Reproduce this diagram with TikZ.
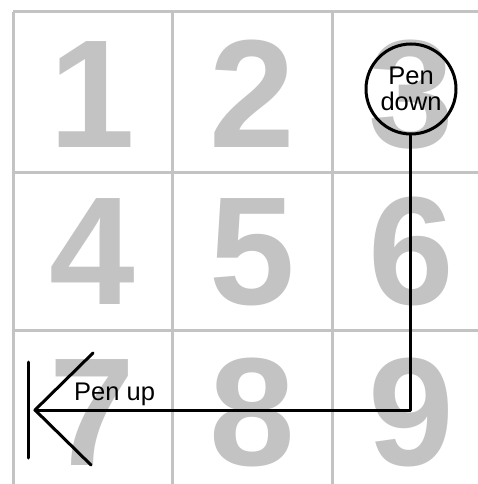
\documentclass[tikz,border=0pt]{standalone}
\usepackage{fontspec}
\setmainfont{Liberation Sans}
\begin{document}
\begin{tikzpicture}[x=1pt,y=-1pt,
  gridline/.style={draw=gridgrey,line width=3pt},
  digit/.style={text=gridgrey,font=\fontsize{154}{154}\bfseries\selectfont,inner sep=0pt,anchor=base},
  pen/.style={line width=3pt,line join=round,line cap=round},
  penlabel/.style={font=\fontsize{25.5}{28}\selectfont,inner sep=0pt}]
\definecolor{gridgrey}{HTML}{C3C3C3}
\useasboundingbox (0,0) rectangle (478,484);
\fill[white] (0,0) rectangle (478,484);
% grid
\foreach \x in {13,172,332} \draw[gridline] (\x,12) -- (\x,484);
\foreach \y in {12,172,330} \draw[gridline] (13,\y) -- (478,\y);
% digits
\node[digit] (d1) at (92,147) {1};
\node[digit] (d2) at (252,147) {2};
\node[digit] (d3) at (411,147) {3};
\node[digit] (d4) at (92,304) {4};
\node[digit] (d5) at (252,304) {5};
\node[digit] (d6) at (411,304) {6};
\node[digit] (d7) at (92,465) {7};
\node[digit] (d8) at (252,465) {8};
\node[digit] (d9) at (411,465) {9};
% pen path
\node[circle,draw=black,line width=3pt,minimum size=90pt,inner sep=0pt,
      penlabel,align=center] (down) at (411,89) {Pen\\[-2pt]down};
\coordinate (corner) at (410,410);
\coordinate (tip) at (35,410);
\coordinate (barbup) at (93,353);
\coordinate (barbdown) at (91,465);
\coordinate (bartop) at (28,362);
\coordinate (barbot) at (28,458);
\draw[pen] (down.south -| corner) -- (corner) -- (tip);
\draw[pen] (barbup) -- (tip) -- (barbdown);
\draw[pen] (bartop) -- (barbot);
\node[penlabel,anchor=base west] (up) at (74,400) {Pen up};
\end{tikzpicture}
\end{document}
